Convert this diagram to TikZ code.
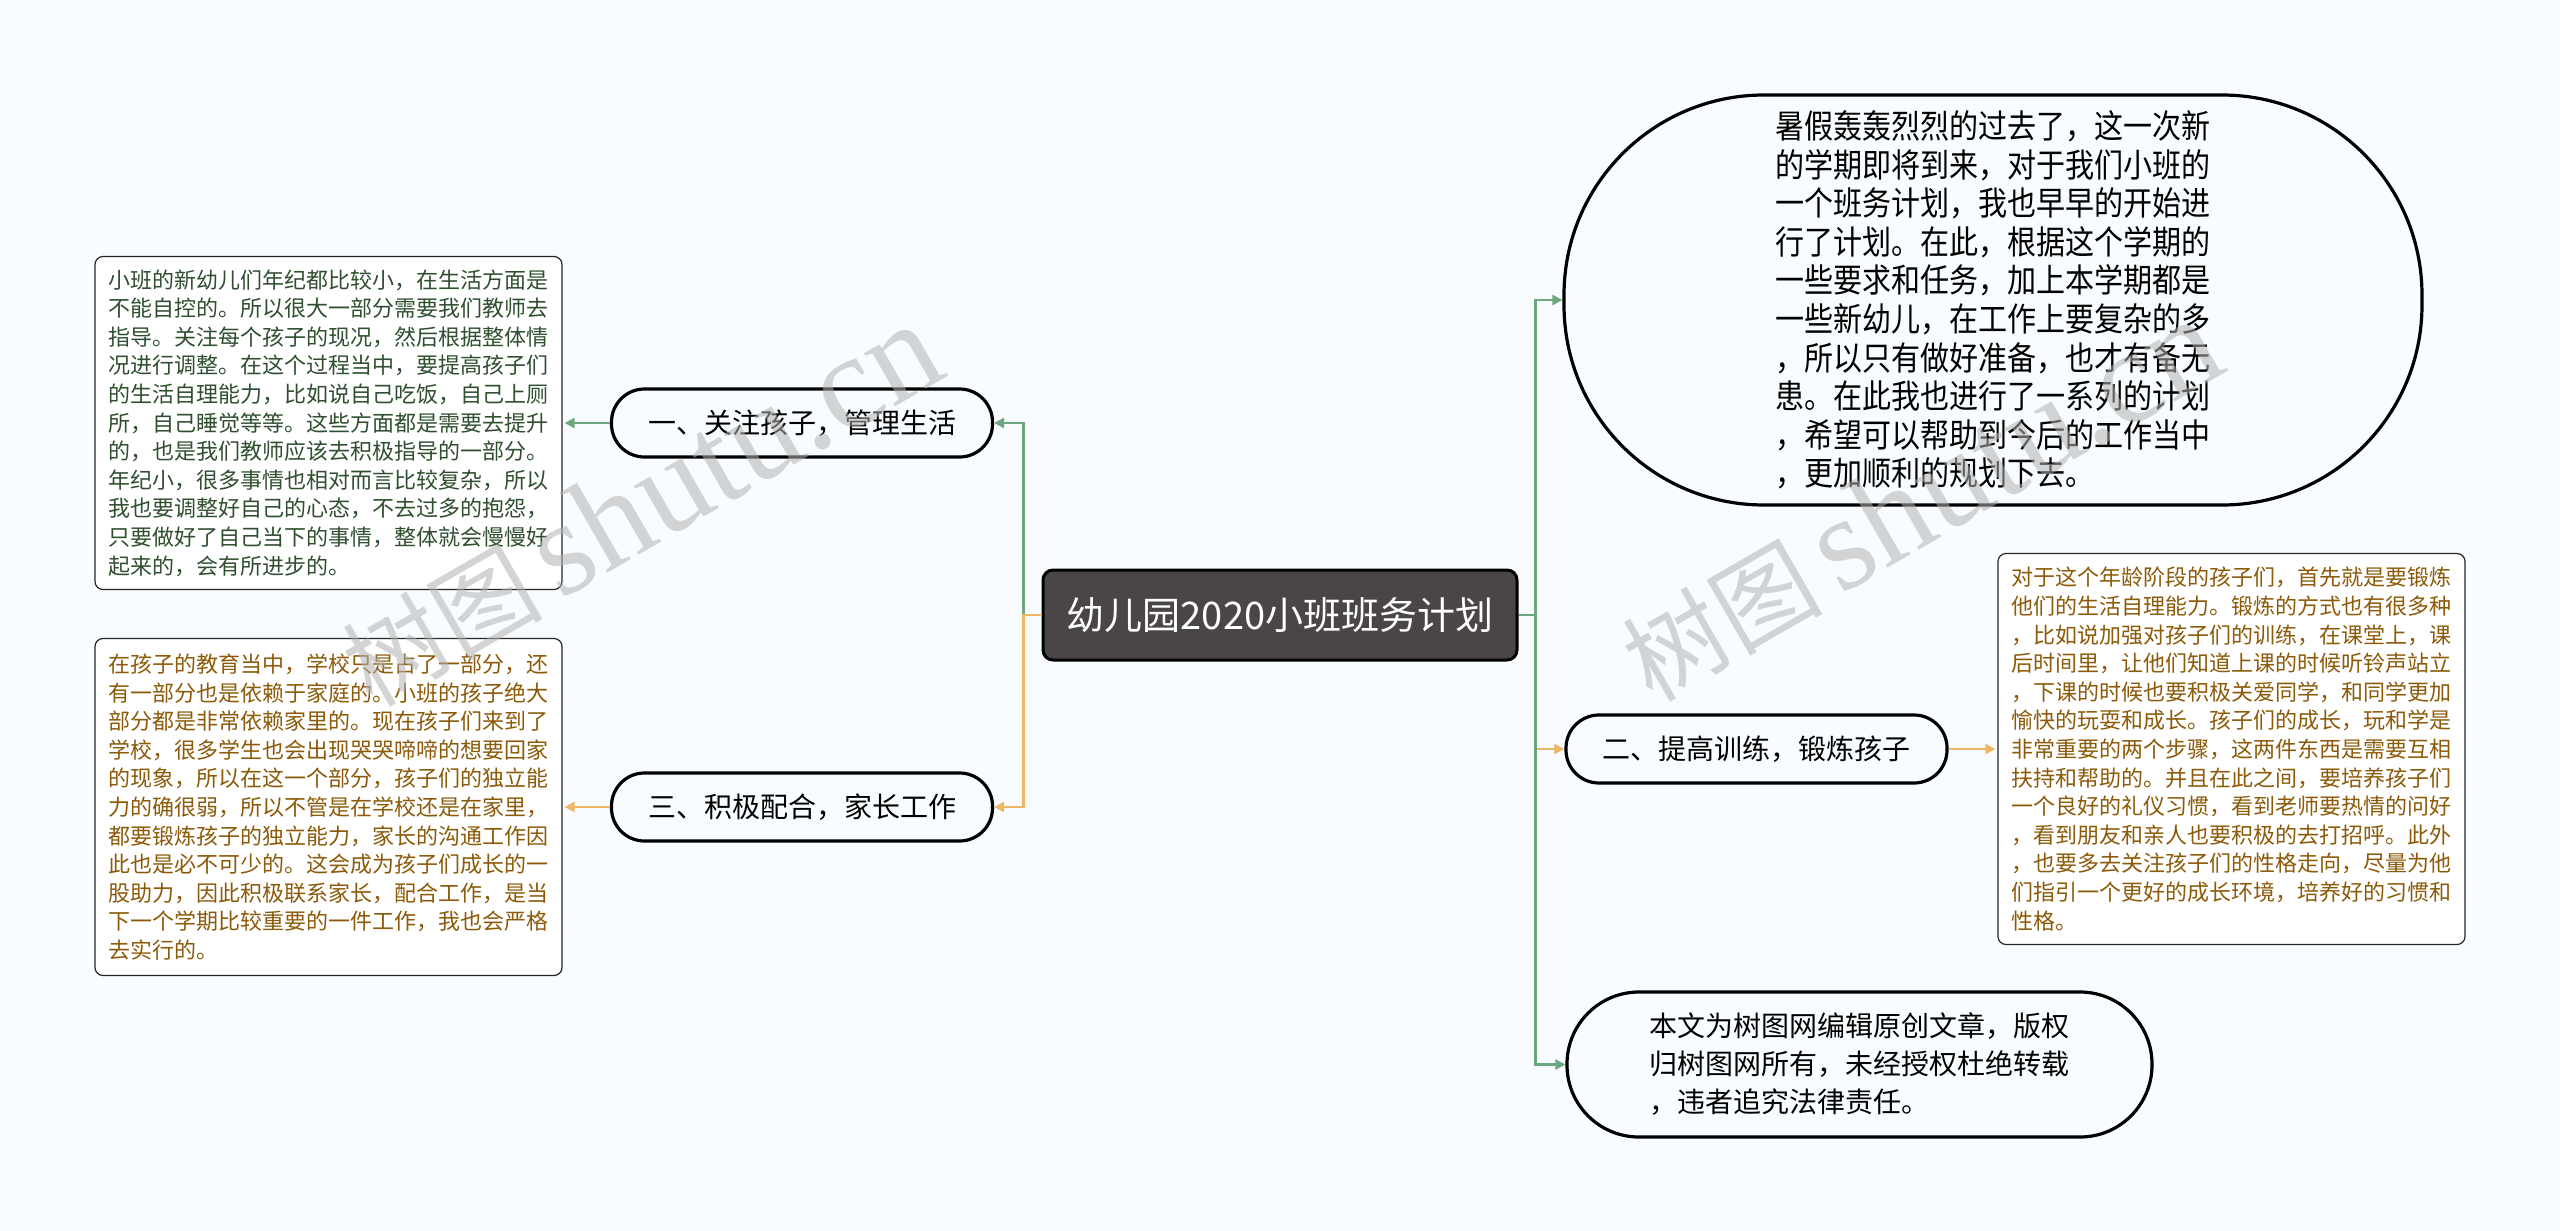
\documentclass[tikz,border=0pt]{standalone}
\usepackage{fontspec}
\usepackage{xcolor}
\usepackage{tikz}
\usetikzlibrary{arrows.meta,calc,positioning}
\newfontfamily\cjk{Noto Sans CJK SC}
\newfontfamily\cjknarrow[FakeStretch=0.88]{Noto Sans CJK SC}
\newfontfamily\wmserif{Liberation Serif}
\definecolor{bgpaper}{HTML}{F8FCFE}
\definecolor{linkgreen}{HTML}{6BA77F}
\definecolor{linkorange}{HTML}{EEB766}
\definecolor{rootfill}{HTML}{4A4546}
\definecolor{txtgreen}{HTML}{2F4F2F}
\definecolor{txtbrown}{HTML}{8C5A08}

\begin{document}
\begin{tikzpicture}[x=0.5pt,y=-0.5pt,
  rootbox/.style={draw=black,line width=1.5pt,fill=rootfill,rounded corners=5pt,text=white,font=\cjk\fontsize{19}{21}\selectfont,minimum width=237pt,minimum height=45pt},
  branch/.style={draw=black,line width=1.6pt,rounded corners=16.5pt,font=\cjk\fontsize{14}{16}\selectfont,minimum width=190.5pt,minimum height=34pt},
  leaf/.style={draw=black!85,line width=0.6pt,fill=white,rounded corners=4pt,align=left,font=\cjk\fontsize{11}{14.3}\selectfont,minimum width=233.5pt},
  link/.style={line width=1.3pt,-{Triangle[length=5pt,width=5pt]}},
  mark wm/.style={rotate=30,text=gray!60,opacity=0.55}]
\fill[bgpaper] (0,0) rectangle (2560,1231);
\useasboundingbox (0,0) rectangle (2560,1231);

% centre
\node[rootbox] (root) at (1280,615) {幼儿园2020小班班务计划};

% left side
\node[branch] (care) at (802,423) {一、关注孩子，管理生活};
\node[branch] (home) at (802,807) {三、积极配合，家长工作};
\node[leaf,text=txtgreen,minimum height=166.5pt] (careText) at (328.5,423) {小班的新幼儿们年纪都比较小，在生活方面是\\不能自控的。所以很大一部分需要我们教师去\\指导。关注每个孩子的现况，然后根据整体情\\况进行调整。在这个过程当中，要提高孩子们\\的生活自理能力，比如说自己吃饭，自己上厕\\所，自己睡觉等等。这些方面都是需要去提升\\的，也是我们教师应该去积极指导的一部分。\\年纪小，很多事情也相对而言比较复杂，所以\\我也要调整好自己的心态，不去过多的抱怨，\\只要做好了自己当下的事情，整体就会慢慢好\\起来的，会有所进步的。};
\node[leaf,text=txtbrown,minimum height=168.5pt] (homeText) at (328.5,807) {在孩子的教育当中，学校只是占了一部分，还\\有一部分也是依赖于家庭的。小班的孩子绝大\\部分都是非常依赖家里的。现在孩子们来到了\\学校，很多学生也会出现哭哭啼啼的想要回家\\的现象，所以在这一个部分，孩子们的独立能\\力的确很弱，所以不管是在学校还是在家里，\\都要锻炼孩子的独立能力，家长的沟通工作因\\此也是必不可少的。这会成为孩子们成长的一\\股助力，因此积极联系家长，配合工作，是当\\下一个学期比较重要的一件工作，我也会严格\\去实行的。};

% right side
\node[draw=black,line width=1.6pt,rounded corners=100pt,minimum width=429pt,minimum height=205pt,align=left,font=\cjknarrow\fontsize{16.5}{19.3}\selectfont] (intro) at (1993,300) {暑假轰轰烈烈的过去了，这一次新\\的学期即将到来，对于我们小班的\\一个班务计划，我也早早的开始进\\行了计划。在此，根据这个学期的\\一些要求和任务，加上本学期都是\\一些新幼儿，在工作上要复杂的多\\，所以只有做好准备，也才有备无\\患。在此我也进行了一系列的计划\\，希望可以帮助到今后的工作当中\\，更加顺利的规划下去。};
\node[branch] (train) at (1756.5,749) {二、提高训练，锻炼孩子};
\node[leaf,text=txtbrown,minimum height=195.5pt] (trainText) at (2231.5,749) {对于这个年龄阶段的孩子们，首先就是要锻炼\\他们的生活自理能力。锻炼的方式也有很多种\\，比如说加强对孩子们的训练，在课堂上，课\\后时间里，让他们知道上课的时候听铃声站立\\，下课的时候也要积极关爱同学，和同学更加\\愉快的玩耍和成长。孩子们的成长，玩和学是\\非常重要的两个步骤，这两件东西是需要互相\\扶持和帮助的。并且在此之间，要培养孩子们\\一个良好的礼仪习惯，看到老师要热情的问好\\，看到朋友和亲人也要积极的去打招呼。此外\\，也要多去关注孩子们的性格走向，尽量为他\\们指引一个更好的成长环境，培养好的习惯和\\性格。};
\node[draw=black,line width=1.6pt,rounded corners=36pt,minimum width=292.5pt,minimum height=72.5pt,align=left,font=\cjk\fontsize{14}{19}\selectfont] (note) at (1859.5,1064.5) {本文为树图网编辑原创文章，版权\\归树图网所有，未经授权杜绝转载\\，违者追究法律责任。};

% connectors
\draw[link,linkgreen] (root.west) -- ++(-9pt,0) |- (care.east);
\draw[link,linkorange] (root.west) -- ++(-9pt,0) |- (home.east);
\draw[link,linkgreen,shorten >=1pt] (care.west) -- (careText.east);
\draw[link,linkorange,shorten >=1pt] (home.west) -- (homeText.east);
\draw[link,linkorange] (root.east) -- ++(8.5pt,0) |- (train.west);
\draw[link,linkgreen] (root.east) -- ++(8.5pt,0) |- (intro.west);
\draw[link,linkgreen] (root.east) -- ++(8.5pt,0) |- (note.west);
\draw[link,linkorange,shorten >=1pt] (train.east) -- (trainText.west);

% watermark
\node[mark wm] (wmLeft) at (640,505) {\cjk\fontsize{50}{50}\selectfont 树图\,\wmserif\fontsize{67}{67}\selectfont shutu.cn};
\node[mark wm] (wmRight) at (1920,500) {\cjk\fontsize{50}{50}\selectfont 树图\,\wmserif\fontsize{67}{67}\selectfont shutu.cn};
\end{tikzpicture}
\end{document}
